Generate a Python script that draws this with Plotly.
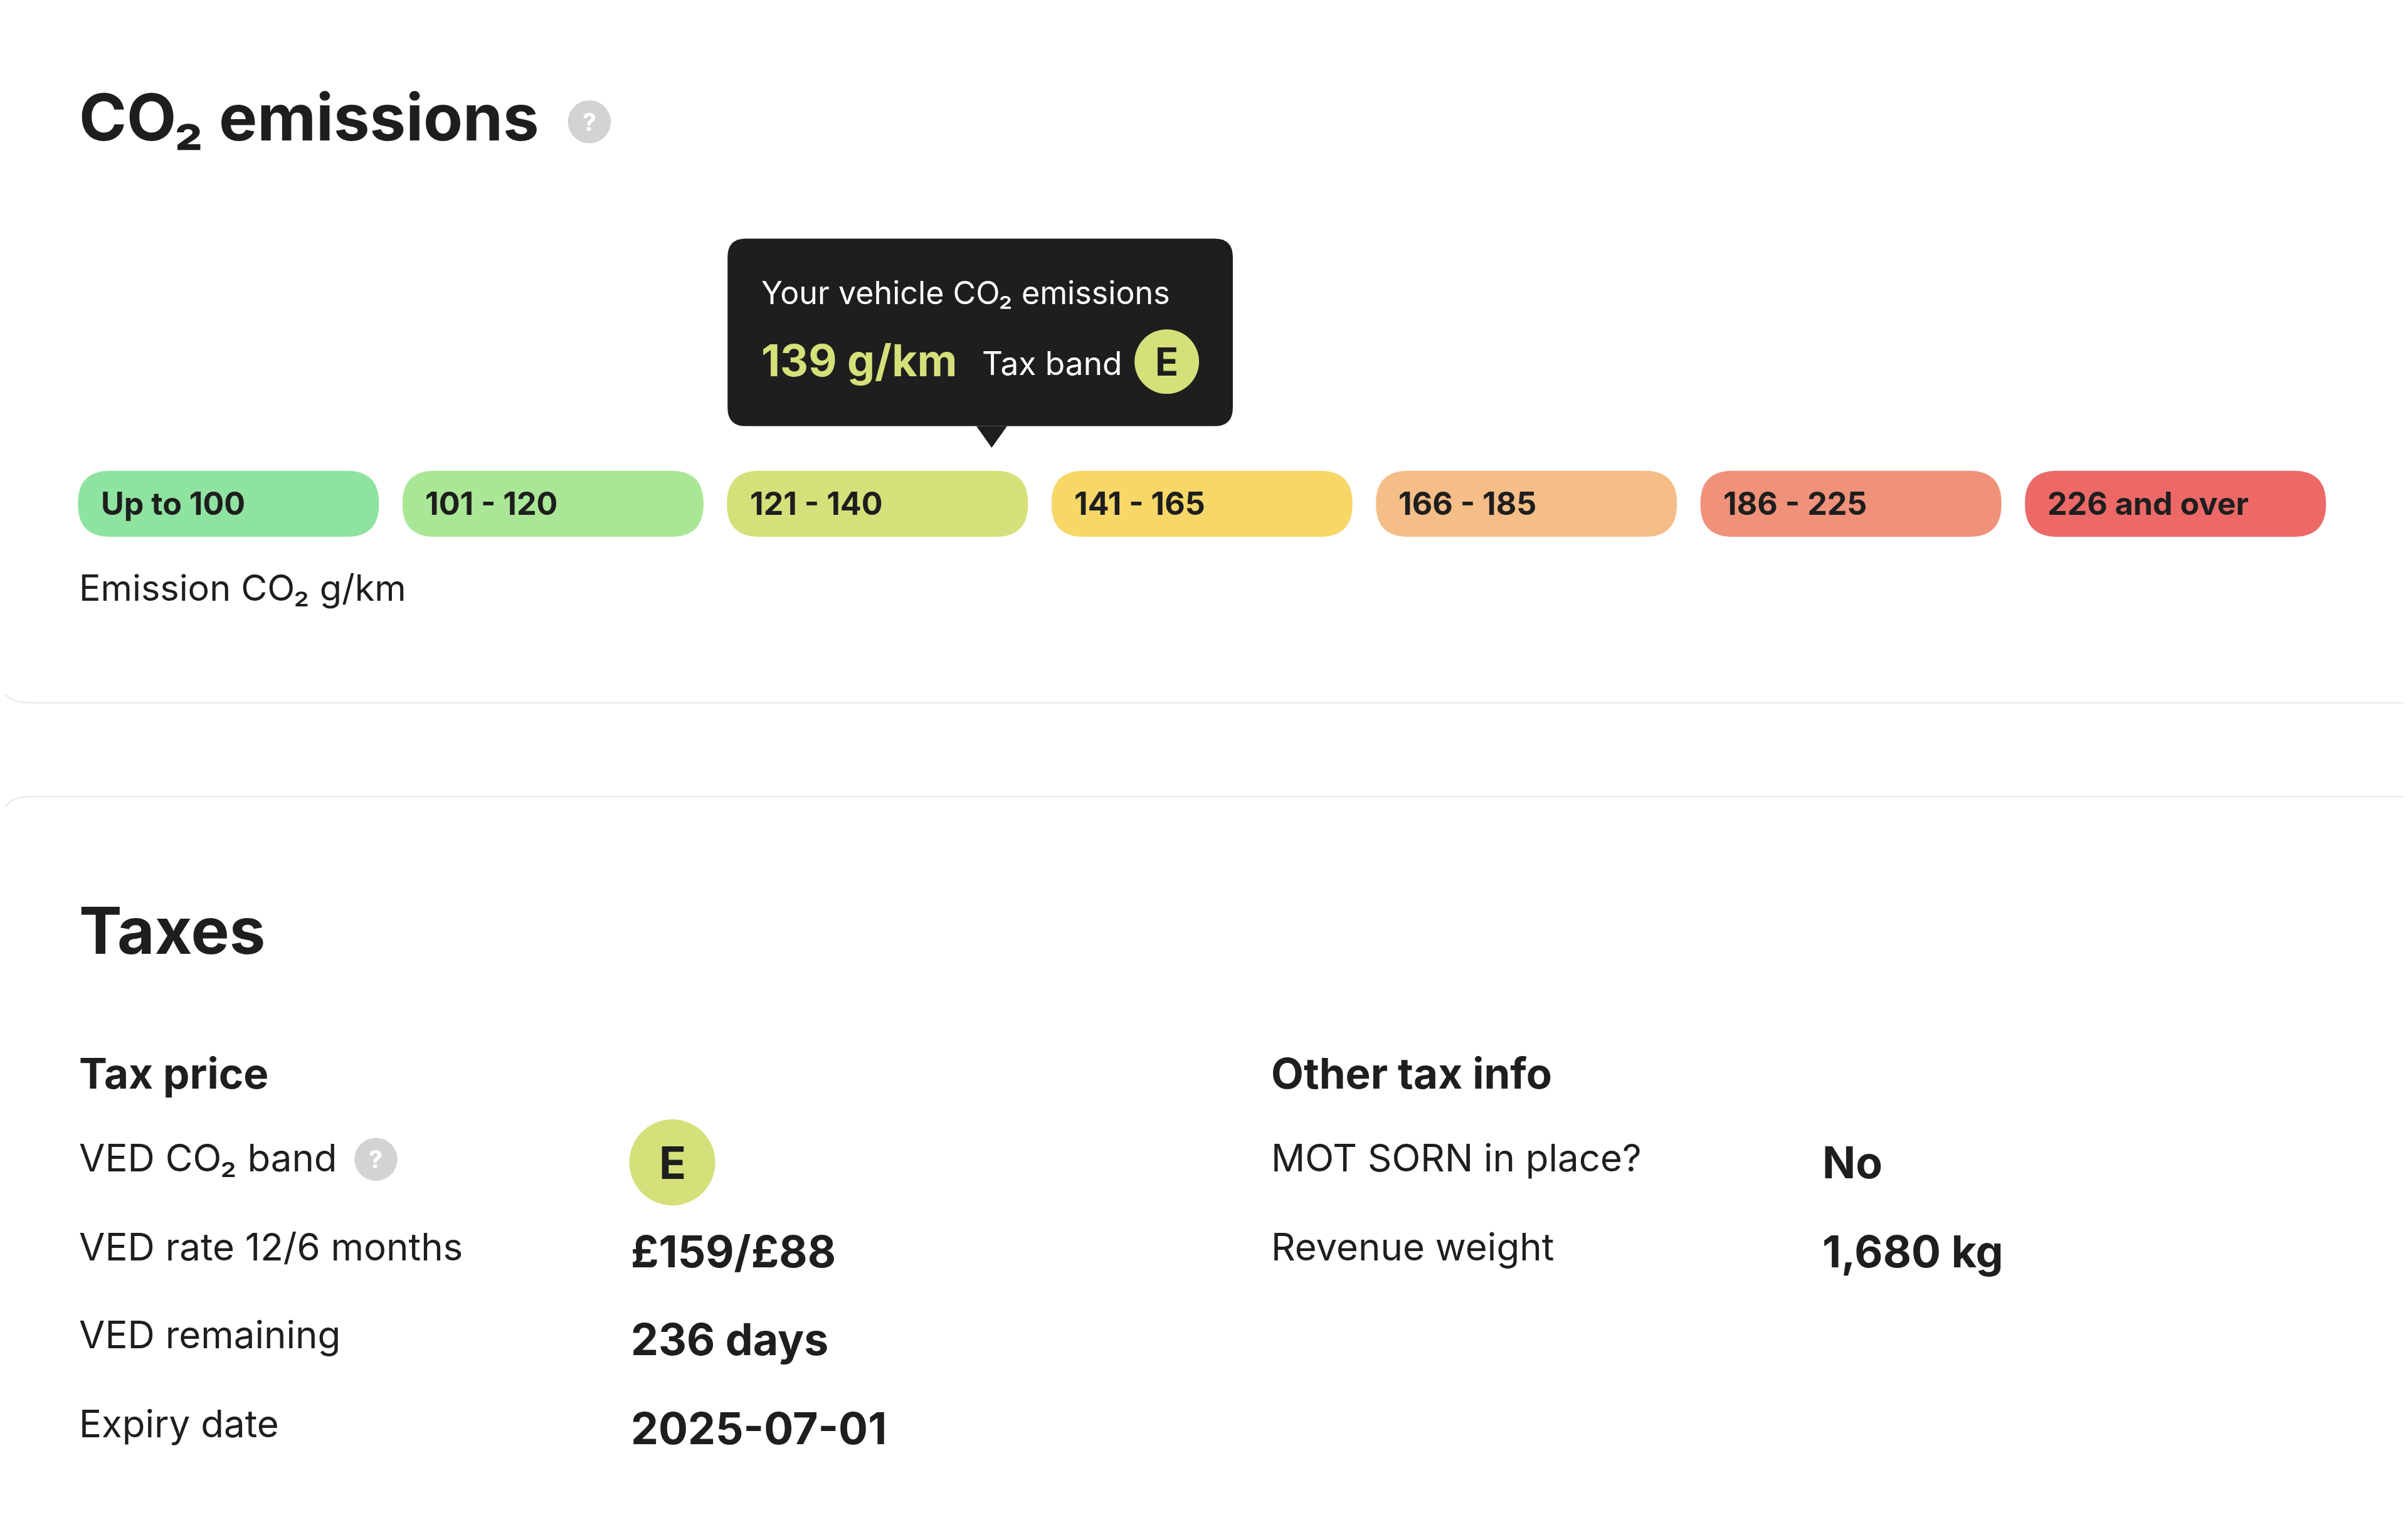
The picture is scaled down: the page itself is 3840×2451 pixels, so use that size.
import plotly.graph_objects as go

# emission bands (g/km) and their colours
band_labels = ["Up to 100", "101 - 120", "121 - 140", "141 - 165", "166 - 185", "186 - 225", "226 and over"]
band_colors = ["#8ee3a0", "#a9e797", "#d5e07a", "#f7d768", "#f5bd87", "#f0927a", "#ec6968"]

vehicle_co2 = "139 g/km"
tax_band = "E"

tax_price_labels = ["VED CO₂ band", "VED rate 12/6 months", "VED remaining", "Expiry date"]
tax_price_values = ["E", "£159/£88", "236 days", "2025-07-01"]
other_labels = ["MOT SORN in place?", "Revenue weight"]
other_values = ["No", "1,680 kg"]

S = 2.449  # reference px -> output px
DARK = "#1e1e1e"
FONT = "Inter"

fig = go.Figure()
shapes = []
ann = []


def text(x, y, s, size, weight=400, color=DARK, anchor="left"):
    ann.append(dict(x=x, y=y, xref="x", yref="y", text=s, showarrow=False,
                    xanchor=anchor, yanchor="middle",
                    font=dict(family=FONT, size=size * S, color=color, weight=weight)))


def rrect(x0, y0, x1, y1, r, color):
    path = (f"M {x0+r},{y0} L {x1-r},{y0} Q {x1},{y0} {x1},{y0+r} L {x1},{y1-r} Q {x1},{y1} {x1-r},{y1} "
            f"L {x0+r},{y1} Q {x0},{y1} {x0},{y1-r} L {x0},{y0+r} Q {x0},{y0} {x0+r},{y0} Z")
    shapes.append(dict(type="path", path=path, xref="x", yref="y", fillcolor=color, line=dict(width=0), layer="below"))


def circle(cx, cy, r, color):
    shapes.append(dict(type="circle", xref="x", yref="y", x0=cx - r, x1=cx + r, y0=cy - r, y1=cy + r,
                       fillcolor=color, line=dict(width=0), layer="below"))


# card outlines
shapes.append(dict(type="path", xref="x", yref="y", path="M 0,440 Q 0,457 20,457 L 1580,457",
                   line=dict(color="#e6e6e6", width=2)))
shapes.append(dict(type="path", xref="x", yref="y", path="M 0,538 Q 0,518 20,518 L 1580,518",
                   line=dict(color="#e6e6e6", width=2)))

# title
text(51, 76, "CO₂ emissions", 42, 700)
circle(384, 79, 14, "#d3d3d3")
text(384, 79, "?", 16, 700, "white", "center")

# band pills
for i, (lab, col) in enumerate(zip(band_labels, band_colors)):
    x0 = 51 + i * 211.3
    rrect(x0, 306, x0 + 196, 349, 21, col)
    text(x0 + 14, 327, lab, 20.5, 700)
text(51, 382, "Emission CO₂ g/km", 23.5)

# tooltip
rrect(474, 155, 803, 277, 12, "#1e1e1e")
shapes.append(dict(type="path", xref="x", yref="y", path="M 636,277 L 656,277 L 646,291 Z",
                   fillcolor="#1e1e1e", line=dict(width=0)))
text(495, 190, "Your vehicle CO₂ emissions", 20.5, 400, "white")
text(495, 234, vehicle_co2, 28.5, 700, "#d5e07a")
text(639, 236, "Tax band", 21, 400, "white")
circle(760, 235, 21, "#d5e07a")
text(760, 235, tax_band, 25, 700, DARK, "center")

# taxes
text(51, 605, "Taxes", 42, 700)
text(51, 698, "Tax price", 27.5, 700)
text(827, 698, "Other tax info", 27.5, 700)

rows_y = [753, 811, 868, 926]
for i, (lab, val) in enumerate(zip(tax_price_labels, tax_price_values)):
    text(51, rows_y[i], lab, 24.5)
    if i == 0:
        circle(438, 756, 28, "#d5e07a")
        text(438, 756, val, 29, 700, DARK, "center")
    else:
        text(410, rows_y[i] + 3, val, 28.5, 700)
circle(245, 754, 14, "#d3d3d3")
text(245, 754, "?", 16, 700, "white", "center")

for i, (lab, val) in enumerate(zip(other_labels, other_values)):
    text(827, rows_y[i], lab, 24.5)
    text(1186, rows_y[i] + 3, val, 28.5, 700)

fig.update_layout(
    width=3840, height=2451, margin=dict(l=0, r=0, t=0, b=0),
    paper_bgcolor="white", plot_bgcolor="white",
    xaxis=dict(range=[3.5, 1571.5], visible=False, fixedrange=True),
    yaxis=dict(range=[1003, 3], visible=False, fixedrange=True),
    shapes=shapes, annotations=ann, showlegend=False,
)
fig.write_html("out.html")
